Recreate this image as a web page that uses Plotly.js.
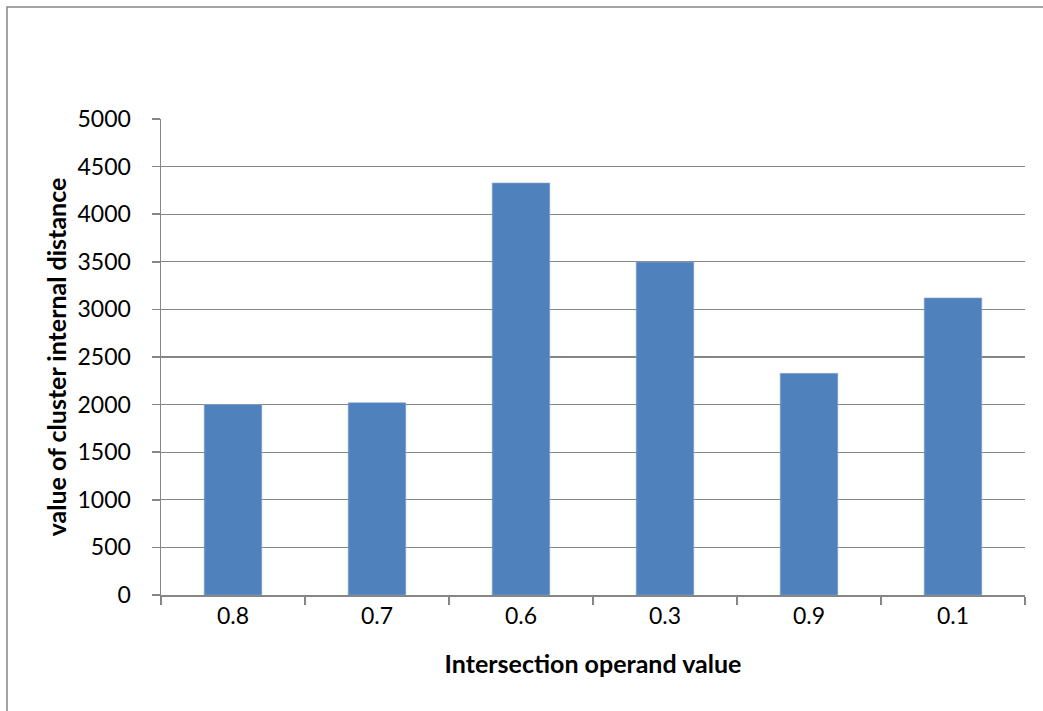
<!DOCTYPE html>
<html>
<head>
<meta charset="utf-8">
<script src="https://cdn.plot.ly/plotly-3.0.1.min.js"></script>
<style>
  html, body { margin: 0; padding: 0; background: #ffffff; }
  #chart { width: 1043px; height: 711px; }
</style>
</head>
<body>
<div id="chart"></div>
<script>
// Cluster internal distance for each intersection operand value
const operandValues = ['0.8', '0.7', '0.6', '0.3', '0.9', '0.1'];
const internalDistance = [2000, 2020, 4328, 3497, 2328, 3121];
const yTickValues = [0, 500, 1000, 1500, 2000, 2500, 3000, 3500, 4000, 4500, 5000];

const axisGray = '#868686';
const barBlue = '#4F81BD';
const font = 'Lato, "Open Sans", sans-serif';

const W = 1043, H = 711;
const margin = { l: 161, r: 18, t: 119, b: 116 };
const plotW = W - margin.l - margin.r;
const plotH = H - margin.t - margin.b;
// convert page pixels to paper fractions for the outer chart-area frame
const px = x => (x - margin.l) / plotW;
const py = y => (H - margin.b - y) / plotH;

const trace = {
  type: 'bar',
  x: operandValues,
  y: internalDistance,
  marker: { color: barBlue, line: { color: '#8fa9d4', width: 0.6 } },
  hoverinfo: 'x+y'
};

const layout = {
  width: W,
  height: H,
  margin: margin,
  paper_bgcolor: '#ffffff',
  plot_bgcolor: '#ffffff',
  showlegend: false,
  bargap: 0.6,
  font: { family: font, size: 23, color: '#000000' },
  xaxis: {
    type: 'category',
    showline: true,
    linecolor: axisGray,
    linewidth: 1.5,
    ticks: 'outside',
    tickson: 'boundaries',
    ticklen: 8,
    tickwidth: 1.5,
    tickcolor: axisGray,
    showgrid: false,
    tickfont: { family: font, size: 23, color: '#000000' },
    title: {
      text: '<b>Intersection operand value</b>',
      font: { family: font, size: 25, color: '#000000' },
      standoff: 27
    }
  },
  yaxis: {
    range: [0, 5000],
    tickvals: yTickValues,
    ticktext: yTickValues.map(String),
    showline: true,
    linecolor: axisGray,
    linewidth: 1.5,
    ticks: 'outside',
    ticklen: 8,
    tickwidth: 1.5,
    tickcolor: axisGray,
    ticklabelstandoff: 16,
    showgrid: true,
    gridcolor: axisGray,
    gridwidth: 1.3,
    zeroline: false,
    tickfont: { family: font, size: 23, color: '#000000' },
    title: {
      text: '<b>value of cluster internal distance</b>',
      font: { family: font, size: 25, color: '#000000' },
      standoff: 4
    }
  },
  shapes: [
    {
      type: 'rect', xref: 'paper', yref: 'paper',
      x0: px(7), x1: px(1060), y0: py(730), y1: py(7),
      line: { color: axisGray, width: 1.5 },
      fillcolor: 'rgba(0,0,0,0)',
      layer: 'below'
    }
  ]
};

Plotly.newPlot('chart', [trace], layout, { displayModeBar: false, staticPlot: true });
</script>
</body>
</html>
